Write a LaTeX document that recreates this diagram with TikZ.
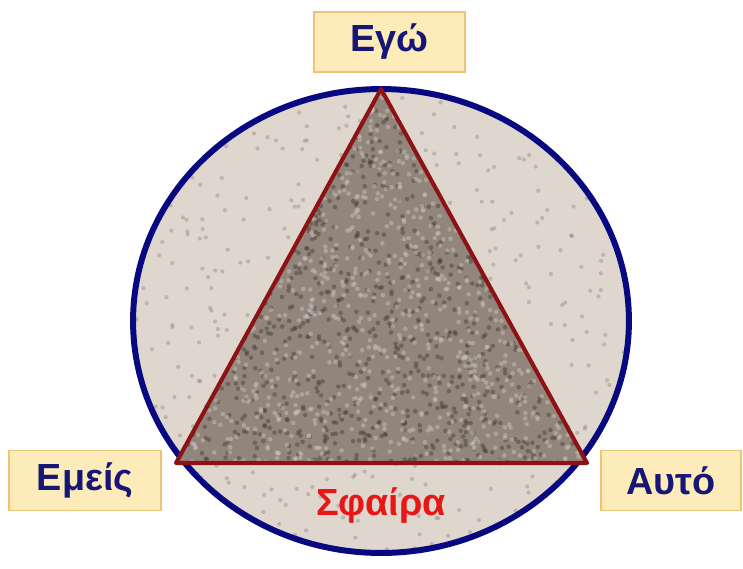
\documentclass[tikz,border=0pt]{standalone}
\usepackage{fontspec}
\setmainfont{Liberation Sans}
\usetikzlibrary{positioning}
\definecolor{rimblue}{RGB}{8,8,128}
\definecolor{sand}{RGB}{223,215,205}
\definecolor{granite}{RGB}{146,133,123}
\definecolor{edgered}{RGB}{140,18,22}
\definecolor{boxfill}{RGB}{253,236,186}
\definecolor{boxedge}{RGB}{236,196,120}
\definecolor{labelnavy}{RGB}{22,22,118}
\definecolor{sfairared}{RGB}{232,22,22}

\begin{document}
\begin{tikzpicture}[x=0.02cm, y=-0.02cm,
    labelbox/.style={draw=boxedge, fill=boxfill, line width=1pt, inner sep=0pt,
      minimum height=1.2cm, text=labelnavy,
      font=\fontsize{21.5}{24}\selectfont\bfseries},
    grain/.style={inner sep=0pt, minimum size=2.4pt, circle}]
  \useasboundingbox (0,0) rectangle (743,568);
  \pgfmathsetseed{7}

  % Η σφαίρα
  \fill[sand] (381,321) ellipse [x radius=4.96cm, y radius=4.64cm];
  \begin{scope}
    \clip (381,321) ellipse [x radius=4.96cm, y radius=4.64cm];
    \foreach \i in {1,...,500}
      \fill[black!45!sand, opacity=0.35] (133+496*rnd,89+464*rnd) circle (1.2pt);
  \end{scope}
  \draw[line width=3.4pt, draw=rimblue]
    (381,321) ellipse [x radius=4.96cm, y radius=4.64cm];

  % Το τρίγωνο
  \coordinate (apex) at (381,89);
  \coordinate (baseL) at (176,463);
  \coordinate (baseR) at (587,463);
  \fill[granite] (apex) -- (baseL) -- (baseR) -- cycle;
  \begin{scope}
    \clip (apex) -- (baseL) -- (baseR) -- cycle;
    \foreach \i in {1,...,1400}
      \fill[black!55!granite, opacity=0.45] (176+411*rnd,89+374*rnd) circle (1.3pt);
    \foreach \i in {1,...,1400}
      \fill[white!55!granite, opacity=0.45] (176+411*rnd,89+374*rnd) circle (1.3pt);
  \end{scope}
  \draw[line width=2.3pt, draw=edgered, line join=round]
    (apex) -- (baseL) -- (baseR) -- cycle;

  % Οι ετικέτες
  \node[labelbox, minimum width=3.02cm] (ego) at (389.5,42) {Εγώ};
  \node[labelbox, minimum width=3.04cm] (emeis) at (85,480.5) {Εμείς};
  \node[labelbox, minimum width=2.80cm] (auto) at (671,480.5) {Αυτό};
  \node[text=sfairared, font=\fontsize{21.5}{24}\selectfont\bfseries] (sfaira) at (381,506) {Σφαίρα};
\end{tikzpicture}
\end{document}
